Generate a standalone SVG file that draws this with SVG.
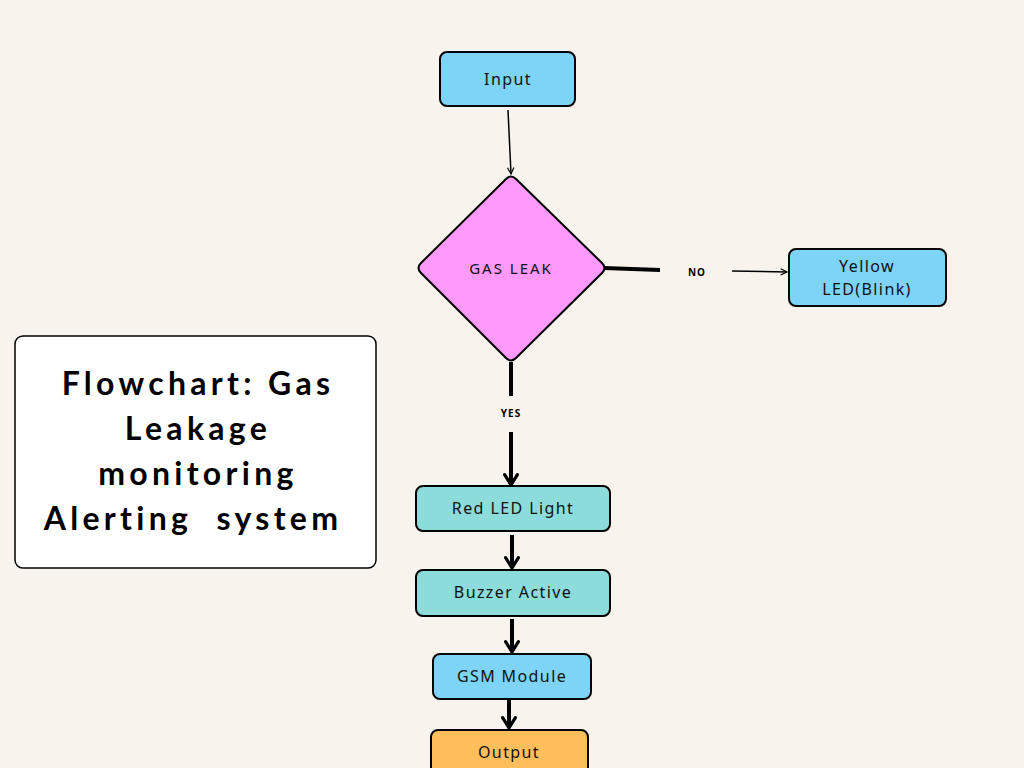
<svg xmlns="http://www.w3.org/2000/svg" width="1024" height="768" viewBox="0 0 1024 768">
<style>
.node{stroke:#000;stroke-width:2}
.lbl{font-family:"Noto Sans","DejaVu Sans",sans-serif;font-size:16px;letter-spacing:1.4px;fill:#111;text-anchor:middle;dominant-baseline:central}
.small{font-family:"Noto Sans","DejaVu Sans",sans-serif;font-size:10px;font-weight:bold;letter-spacing:1px;fill:#000;text-anchor:middle;dominant-baseline:central}
.title{font-family:"Lato","Noto Sans",sans-serif;font-size:32px;font-weight:bold;letter-spacing:4.3px;fill:#000;text-anchor:middle}
.thin{stroke:#000;stroke-width:1.5;fill:none}
.thick{stroke:#000;stroke-width:4;fill:none}
</style>
<defs>
<marker id="ah" viewBox="0 0 10 10" refX="9" refY="5" markerWidth="8" markerHeight="8" markerUnits="userSpaceOnUse" orient="auto">
<path d="M1,1 L9,5 L1,9" fill="none" stroke="#000" stroke-width="1.5"/>
</marker>
<marker id="ahb" viewBox="0 0 10 10" refX="8.5" refY="5" markerWidth="16" markerHeight="16" markerUnits="userSpaceOnUse" orient="auto">
<path d="M2,1 L8.5,5 L2,9" fill="none" stroke="#000" stroke-width="2" stroke-linecap="round" stroke-linejoin="round"/>
</marker>
</defs>
<rect width="1024" height="768" fill="#f8f4ed"/>

<g id="connectors">
<line class="thin" x1="508" y1="110" x2="511" y2="174" marker-end="url(#ah)"/>
<line class="thick" x1="604" y1="268" x2="660" y2="270"/>
<line class="thin" x1="732" y1="271" x2="787" y2="272" marker-end="url(#ah)"/>
<line class="thick" x1="511" y1="362" x2="511" y2="396"/>
<line class="thick" x1="511" y1="432" x2="511" y2="485" marker-end="url(#ahb)"/>
<line class="thick" x1="512" y1="535" x2="512" y2="568" marker-end="url(#ahb)"/>
<line class="thick" x1="512" y1="619" x2="512" y2="652" marker-end="url(#ahb)"/>
<line class="thick" x1="509" y1="694" x2="509" y2="728" marker-end="url(#ahb)"/>
<text class="small" x="697" y="272">NO</text>
<text class="small" x="511" y="413">YES</text>
</g>

<g id="input">
<rect class="node" x="440" y="52" width="135" height="54" rx="7" fill="#7dd4f6"/>
<text class="lbl" x="508" y="79">Input</text>
</g>

<g id="gasleak">
<path class="node" d="M506,179 Q511,174 516,179 L602,263 Q607,268 602,273 L516,358 Q511,363 506,358 L421,273 Q416,268 421,263 Z" fill="#ff99fb"/>
<text class="lbl" x="511" y="268" style="font-size:15px;letter-spacing:2px">GAS LEAK</text>
</g>

<g id="yellow">
<rect class="node" x="789" y="249" width="157" height="57" rx="7" fill="#7dd4f6"/>
<text class="lbl" x="867" y="266">Yellow</text>
<text class="lbl" x="867" y="289">LED(Blink)</text>
</g>

<g id="redled">
<rect class="node" x="416" y="486" width="194" height="45" rx="7" fill="#8ddcdc"/>
<text class="lbl" x="513" y="508">Red LED Light</text>
</g>

<g id="buzzer">
<rect class="node" x="416" y="570" width="194" height="46" rx="7" fill="#8ddcdc"/>
<text class="lbl" x="513" y="592">Buzzer Active</text>
</g>

<g id="gsm">
<rect class="node" x="433" y="654" width="158" height="45" rx="7" fill="#7dd4f6"/>
<text class="lbl" x="512" y="676">GSM Module</text>
</g>

<g id="output">
<rect class="node" x="431" y="730" width="157" height="48" rx="7" fill="#ffbe5c"/>
<text class="lbl" x="509" y="752">Output</text>
</g>

<g id="title">
<rect x="15" y="336" width="361" height="232" rx="8" fill="#fff" stroke="#000" stroke-width="1.5"/>
<text class="title" x="198" y="395">Flowchart: Gas</text>
<text class="title" x="198" y="440">Leakage</text>
<text class="title" x="198" y="485">monitoring</text>
<text class="title" x="193" y="530" xml:space="preserve">Alerting  system</text>
</g>
</svg>
